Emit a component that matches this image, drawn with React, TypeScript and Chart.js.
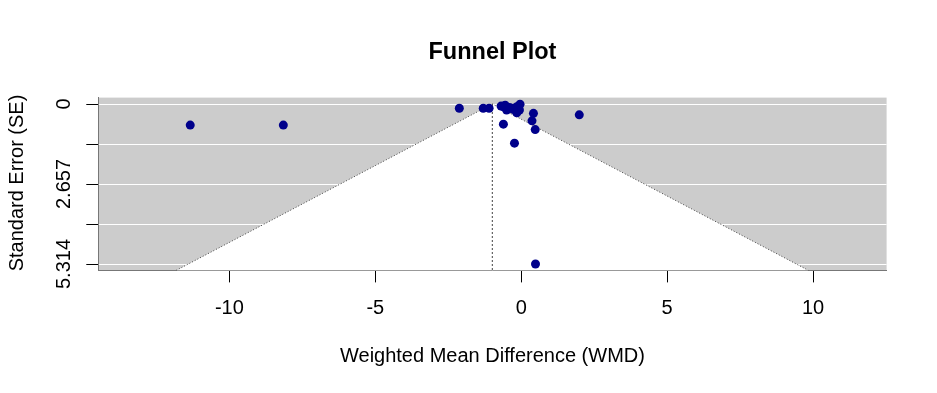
import React, { useEffect, useRef } from "react";
import { Chart, registerables } from "chart.js";

Chart.register(...registerables);

// Study effects (WMD) and standard errors
const wmd = [-11.34, -8.15, -2.12, -1.3, -1.1, -0.69, -0.61, -0.5, -0.32, -0.15, -0.04, -0.06, -0.15, -0.27, 0.42, 0.37, 0.48, -0.61, -0.23, 1.99, 0.49, -0.55, -0.4];
const se = [0.7, 0.7, 0.14, 0.14, 0.14, 0.07, 0.09, 0.2, 0.14, 0.09, 0.01, 0.2, 0.29, 0.18, 0.31, 0.56, 0.85, 0.67, 1.3, 0.36, 5.314, 0.04, 0.12];

const estimate = -0.99;
const seMax = 5.314;
const yTickValues = [0, 1.3285, 2.657, 3.9855, 5.314];
const yTickLabels = ["0", "", "2.657", "", "5.314"];
const xTickValues = [-10, -5, 0, 5, 10];
const xTickLabels = ["-10", "-5", "0", "5", "10"];

const FONT = '"Liberation Sans", Arial, Helvetica, sans-serif';

export default function App() {
  const ref = useRef<HTMLCanvasElement | null>(null);

  useEffect(() => {
    const canvas = ref.current;
    if (!canvas) return;
    const yLo = -seMax * 0.04;
    const yHi = seMax * 1.04;
    const funnel = [
      { x: estimate - 1.96 * yHi, y: yHi },
      { x: estimate, y: 0 },
      { x: estimate + 1.96 * yHi, y: yHi },
    ];
    const points = wmd.map((x, i) => ({ x, y: se[i] }));

    const bgPlugin = {
      id: "bg",
      beforeDraw(chart: any) {
        const { ctx, chartArea: a } = chart;
        ctx.save();
        ctx.fillStyle = "#cccccc";
        ctx.fillRect(a.left, a.top, a.right - a.left, a.bottom - a.top);
        ctx.restore();
      },
      afterDraw(chart: any) {
        const { ctx, chartArea: a } = chart;
        const xs = chart.scales.x;
        const ys = chart.scales.y;
        ctx.save();
        ctx.fillStyle = "#000";
        ctx.font = `bold 23.5px ${FONT}`;
        ctx.textAlign = "center";
        ctx.textBaseline = "alphabetic";
        ctx.fillText("Funnel Plot", (a.left + a.right) / 2, 58.5);
        ctx.font = `20px ${FONT}`;
        ctx.fillText("Weighted Mean Difference (WMD)", (a.left + a.right) / 2, 361.5);
        xTickValues.forEach((v, i) => {
          ctx.fillText(xTickLabels[i], xs.getPixelForValue(v), 313.5);
        });
        yTickValues.forEach((v, i) => {
          if (!yTickLabels[i]) return;
          ctx.save();
          ctx.translate(70, ys.getPixelForValue(v));
          ctx.rotate(-Math.PI / 2);
          ctx.fillText(yTickLabels[i], 0, 0);
          ctx.restore();
        });
        ctx.save();
        ctx.translate(22.5, (a.top + a.bottom) / 2 - 1);
        ctx.rotate(-Math.PI / 2);
        ctx.fillText("Standard Error (SE)", 0, 0);
        ctx.restore();
        ctx.restore();
      },
    };

    const chart = new Chart(canvas, {
      type: "scatter",
      data: {
        datasets: [
          {
            type: "line",
            order: 3,
            data: funnel,
            fill: "shape",
            backgroundColor: "#ffffff",
            borderColor: "#444444",
            borderWidth: 1,
            borderDash: [1, 2],
            pointRadius: 0,
            tension: 0,
          } as any,
          {
            type: "line",
            order: 2,
            data: [
              { x: estimate, y: 0 },
              { x: estimate, y: yHi },
            ],
            fill: false,
            borderColor: "#444444",
            borderWidth: 1,
            borderDash: [2, 2],
            pointRadius: 0,
          } as any,
          {
            type: "scatter",
            order: 1,
            data: points,
            backgroundColor: "#00008b",
            borderWidth: 0,
            pointRadius: 4.5,
          },
        ],
      },
      options: {
        animation: false,
        responsive: false,
        devicePixelRatio: 1,
        layout: { padding: { left: 0, top: 97.6, right: 50.4, bottom: 0 } },
        plugins: { legend: { display: false }, tooltip: { enabled: false } },
        scales: {
          x: {
            type: "linear",
            min: -14.49,
            max: 12.52,
            afterBuildTicks: (s: any) => {
              s.ticks = xTickValues.map((v) => ({ value: v }));
            },
            afterFit: (s: any) => {
              s.height = 393 - 270.4;
            },
            ticks: { display: false },
            grid: {
              drawOnChartArea: false,
              drawTicks: true,
              tickLength: 12,
              tickColor: "#000",
              color: "#000",
            },
            border: { display: true, color: "#777777", width: 1 },
          },
          y: {
            type: "linear",
            reverse: true,
            min: -seMax * 0.04,
            max: seMax * 1.04,
            afterBuildTicks: (s: any) => {
              s.ticks = yTickValues.map((v) => ({ value: v }));
            },
            afterFit: (s: any) => {
              s.width = 98.3;
            },
            ticks: { display: false },
            grid: {
              drawOnChartArea: true,
              drawTicks: true,
              tickLength: 12,
              tickColor: "#000",
              color: "#ffffff",
            },
            border: { display: true, color: "#777777", width: 1 },
          },
        },
      } as any,
      plugins: [bgPlugin],
    });
    return () => chart.destroy();
  }, []);

  return (
    <div style={{ position: "absolute", left: 0, top: 0, width: 937, height: 393, background: "#fff" }}>
      <canvas ref={ref} width={937} height={393} style={{ width: 937, height: 393, display: "block" }} />
    </div>
  );
}
